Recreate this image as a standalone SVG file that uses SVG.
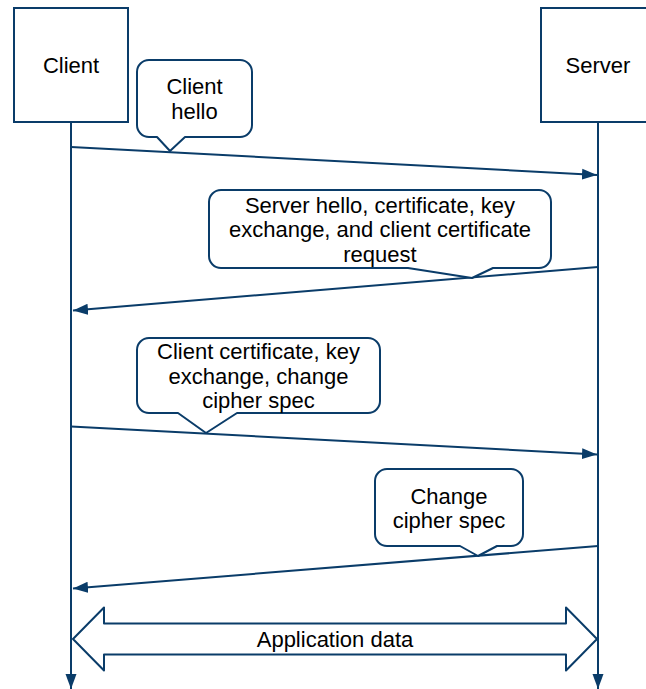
<svg xmlns="http://www.w3.org/2000/svg" width="646" height="689" viewBox="0 0 646 689">
  <style>
    .box { fill: #ffffff; stroke: #0a3c69; stroke-width: 2; }
    .life { fill: none; stroke: #0a3c69; stroke-width: 2; }
    .msg { fill: none; stroke: #0a3c69; stroke-width: 2; }
    .call { fill: #ffffff; stroke: #0a3c69; stroke-width: 2; stroke-linejoin: round; }
    .lbl { font-family: "Liberation Sans", Arial, sans-serif; font-size: 22px; fill: #000000; text-anchor: middle; }
  </style>
  <defs>
    <marker id="head" markerUnits="userSpaceOnUse" markerWidth="16" markerHeight="12" refX="15" refY="6" orient="auto">
      <path d="M0,0.5 L15,6 L0,11.5 Z" fill="#0a3c69"/>
    </marker>
  </defs>

  <!-- participants -->
  <g id="client">
    <rect class="box" x="14" y="8" width="114" height="114"/>
    <text class="lbl" x="71" y="73">Client</text>
  </g>
  <g id="server">
    <rect class="box" x="541" y="8" width="114" height="114"/>
    <text class="lbl" x="598" y="73">Server</text>
  </g>

  <!-- lifelines and messages -->
  <g id="connectors">
    <line class="life" x1="71" y1="122" x2="71" y2="689" marker-end="url(#head)"/>
    <line class="life" x1="598" y1="122" x2="598" y2="689" marker-end="url(#head)"/>
    <line class="msg" x1="71" y1="147" x2="597" y2="175" marker-end="url(#head)"/>
    <line class="msg" x1="598" y1="267" x2="73" y2="310.5" marker-end="url(#head)"/>
    <line class="msg" x1="71" y1="426.5" x2="597" y2="454.5" marker-end="url(#head)"/>
    <line class="msg" x1="598" y1="546" x2="73" y2="588.5" marker-end="url(#head)"/>
  </g>

  <!-- message callouts -->
  <g id="note-client-hello">
    <path class="call" d="M149,60 H240 A12,12 0 0 1 252,72 V125 A12,12 0 0 1 240,137 H185 L170,151 L157,137 H149 A12,12 0 0 1 137,125 V72 A12,12 0 0 1 149,60 Z"/>
    <text class="lbl" x="194.5" y="94">Client</text>
    <text class="lbl" x="194.5" y="118.5">hello</text>
  </g>
  <g id="note-server-hello">
    <path class="call" d="M221,190 H539 A12,12 0 0 1 551,202 V256 A12,12 0 0 1 539,268 H493 L472,278 L408,268 H221 A12,12 0 0 1 209,256 V202 A12,12 0 0 1 221,190 Z"/>
    <text class="lbl" x="380" y="212.5">Server hello, certificate, key</text>
    <text class="lbl" x="380" y="237">exchange, and client certificate</text>
    <text class="lbl" x="380" y="261.5">request</text>
  </g>
  <g id="note-client-cert">
    <path class="call" d="M149,338 H368 A12,12 0 0 1 380,350 V401 A12,12 0 0 1 368,413 H237 L206,433 L178,413 H149 A12,12 0 0 1 137,401 V350 A12,12 0 0 1 149,338 Z"/>
    <text class="lbl" x="258.5" y="359">Client certificate, key</text>
    <text class="lbl" x="258.5" y="383.5">exchange, change</text>
    <text class="lbl" x="258.5" y="408">cipher spec</text>
  </g>
  <g id="note-change-cipher">
    <path class="call" d="M387,469 H511 A12,12 0 0 1 523,481 V534 A12,12 0 0 1 511,546 H497 L478,556 L460,546 H387 A12,12 0 0 1 375,534 V481 A12,12 0 0 1 387,469 Z"/>
    <text class="lbl" x="449" y="503.5">Change</text>
    <text class="lbl" x="449" y="528">cipher spec</text>
  </g>

  <!-- bidirectional application data -->
  <g id="application-data">
    <path class="call" d="M73,639 L104,607.5 V623.5 H566 V607.5 L597,639 L566,670.5 V654.5 H104 V670.5 Z" stroke-linejoin="miter"/>
    <text class="lbl" x="335" y="646.5">Application data</text>
  </g>
</svg>
